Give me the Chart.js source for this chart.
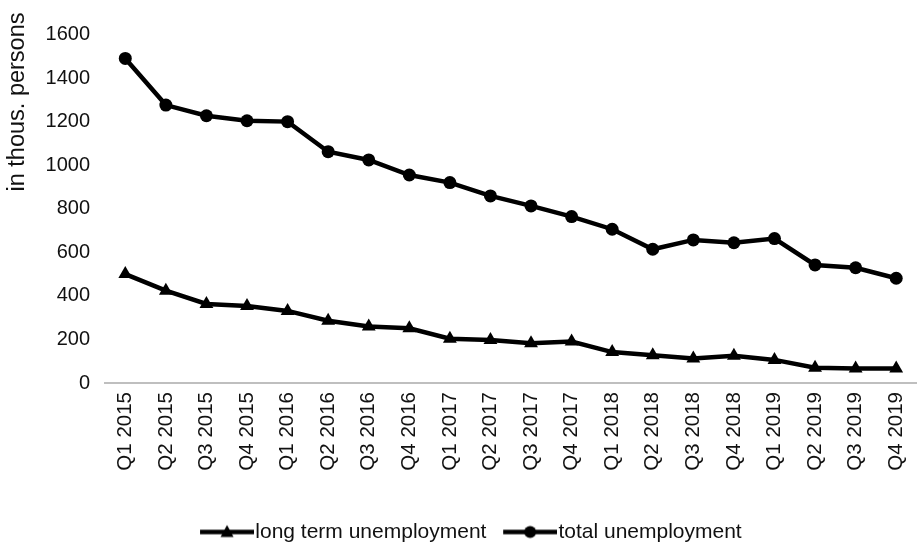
<!DOCTYPE html>
<html>
<head>
<meta charset="utf-8">
<script src="https://cdn.jsdelivr.net/npm/chart.js@4/dist/chart.umd.min.js"></script>
<style>
  html, body { margin: 0; padding: 0; background: #fff; overflow: hidden; }
  #wrap { width: 930px; height: 543px; }
</style>
</head>
<body>
<div id="wrap"><canvas id="c" width="930" height="543"></canvas></div>
<script>
const categories = ["Q1 2015","Q2 2015","Q3 2015","Q4 2015","Q1 2016","Q2 2016","Q3 2016","Q4 2016",
  "Q1 2017","Q2 2017","Q3 2017","Q4 2017","Q1 2018","Q2 2018","Q3 2018","Q4 2018",
  "Q1 2019","Q2 2019","Q3 2019","Q4 2019"];
const longTermUnemployment = [500,424,363,354,331,286,259,251,203,197,182,190,142,127,113,125,106,70,67,67];
const totalUnemployment = [1490,1276,1227,1204,1200,1062,1024,955,920,859,813,764,706,614,657,644,663,542,529,481];
const seriesNames = ["long term unemployment", "total unemployment"];
const yAxisTitle = "in thous. persons";
const yMin = 0, yMax = 1600, yStep = 200;

const FONT = '"Liberation Sans", Arial, sans-serif';
const TXT = '#111';

function legendImage(kind) {
  const cv = document.createElement('canvas');
  cv.width = 63; cv.height = 21;
  const g = cv.getContext('2d');
  g.fillStyle = '#000'; g.strokeStyle = '#000';
  g.lineWidth = 4.5;
  g.beginPath(); g.moveTo(9, 10.5); g.lineTo(63, 10.5); g.stroke();
  const cx = 36, cy = 10.5;
  g.beginPath();
  if (kind === 'triangle') {
    g.moveTo(cx, cy - 7); g.lineTo(cx + 6.5, cy + 5); g.lineTo(cx - 6.5, cy + 5); g.closePath();
  } else {
    g.arc(cx, cy, 6, 0, Math.PI * 2);
  }
  g.fill();
  return cv;
}
const legendImgs = [legendImage('triangle'), legendImage('circle')];

const yTitlePlugin = {
  id: 'yTitle',
  afterDraw(chart) {
    const ctx = chart.ctx;
    ctx.save();
    ctx.translate(17.5, 102);
    ctx.rotate(-Math.PI / 2);
    ctx.font = '23.5px ' + FONT;
    ctx.fillStyle = TXT;
    ctx.textAlign = 'center';
    ctx.textBaseline = 'middle';
    ctx.fillText(yAxisTitle, 0, 0);
    ctx.restore();
  }
};

new Chart(document.getElementById('c'), {
  type: 'line',
  data: {
    labels: categories,
    datasets: [
      {
        label: seriesNames[0],
        data: longTermUnemployment,
        borderColor: '#000', backgroundColor: '#000',
        borderWidth: 4.5, tension: 0,
        pointStyle: 'triangle', pointRadius: 8, pointBorderWidth: 0,
        pointBackgroundColor: '#000'
      },
      {
        label: seriesNames[1],
        data: totalUnemployment,
        borderColor: '#000', backgroundColor: '#000',
        borderWidth: 4.5, tension: 0,
        pointStyle: 'circle', pointRadius: 6.5, pointBorderWidth: 0,
        pointBackgroundColor: '#000'
      }
    ]
  },
  options: {
    responsive: false,
    devicePixelRatio: 1,
    animation: false,
    layout: { padding: { left: 16.5, right: 4.5, top: 34.5, bottom: -9.5 } },
    plugins: {
      tooltip: { enabled: false },
      legend: {
        position: 'bottom',
        labels: {
          usePointStyle: true,
          pointStyleWidth: 44.5,
          boxHeight: 21,
          padding: 17,
          color: TXT,
          font: { family: FONT, size: 21 },
          generateLabels(chart) {
            const base = Chart.defaults.plugins.legend.labels.generateLabels(chart);
            return base.map((l, i) => Object.assign({}, l, { pointStyle: legendImgs[i], fontColor: TXT }));
          }
        }
      }
    },
    scales: {
      x: {
        type: 'category',
        offset: true,
        grid: { display: false, drawTicks: false },
        border: { display: true, color: '#bfbfbf', width: 2 },
        ticks: {
          minRotation: 90, maxRotation: 90, autoSkip: false,
          padding: 9, color: TXT,
          font: { family: FONT, size: 20.5 }
        },
        afterFit(scale) { scale.height = 121.5; }
      },
      y: {
        min: yMin, max: yMax,
        grid: { display: false, drawTicks: false },
        border: { display: false },
        ticks: {
          stepSize: yStep, padding: 15, color: TXT,
          font: { family: FONT, size: 20 },
          callback: (v) => String(v)
        },
        afterFit(scale) { scale.width = 88.5; }
      }
    }
  },
  plugins: [yTitlePlugin]
});
</script>
</body>
</html>
